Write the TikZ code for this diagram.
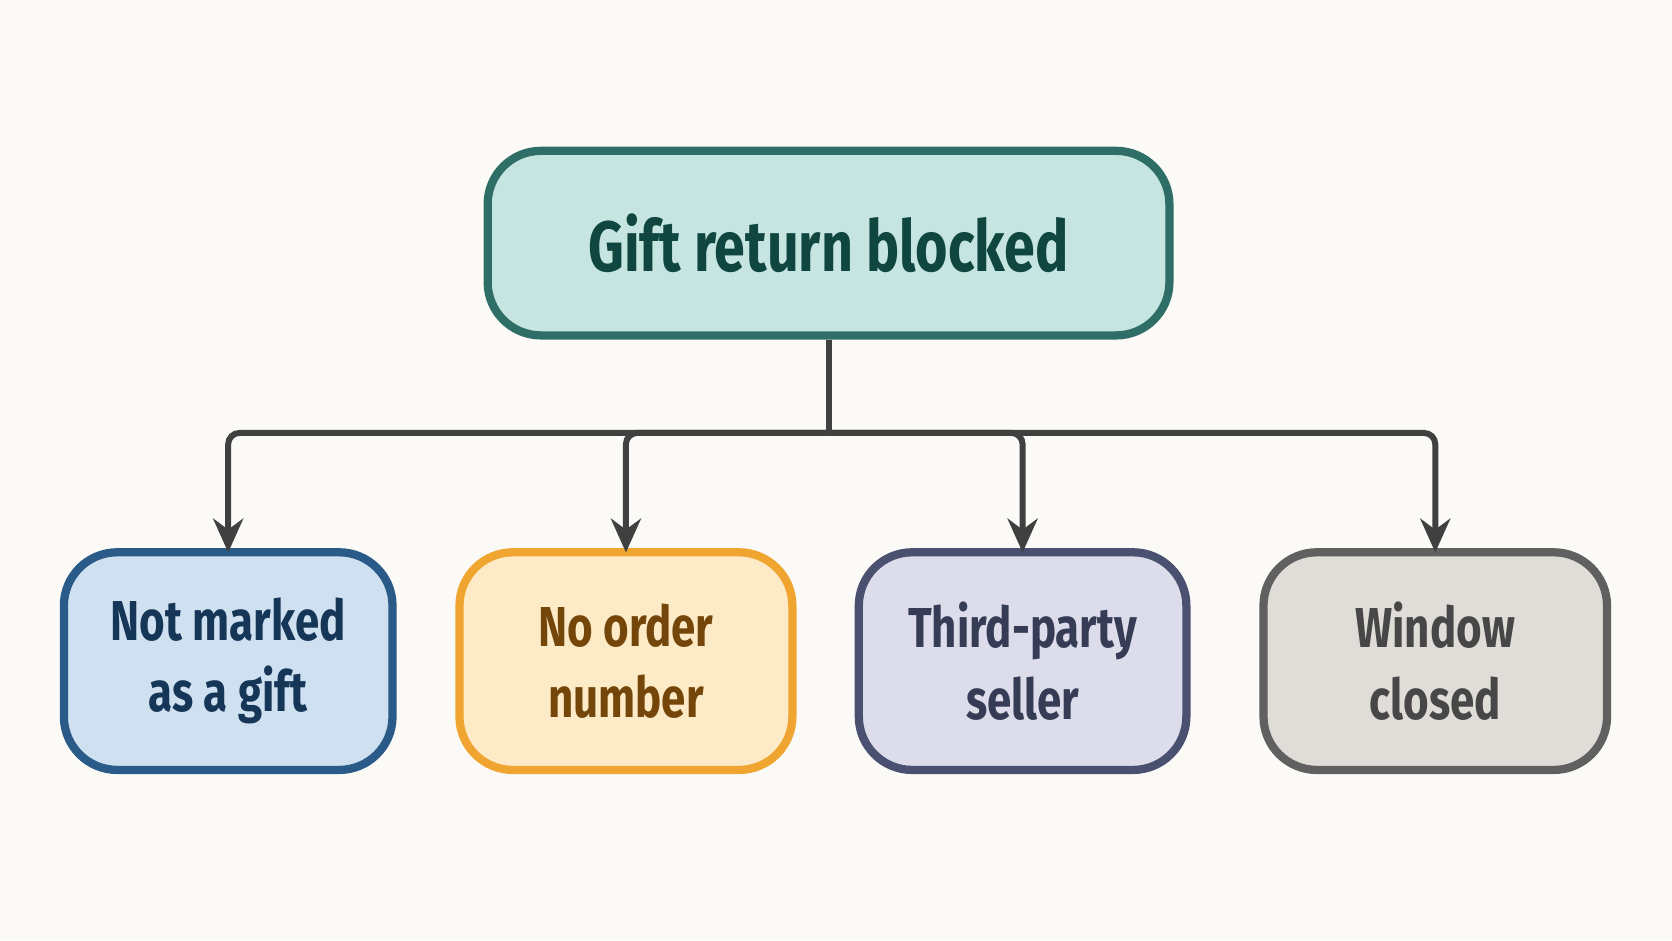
\documentclass[tikz,border=0pt]{standalone}
\usepackage{fontspec}
\setmainfont{Fira Sans}[FakeStretch=0.78]
\usetikzlibrary{arrows.meta}
\definecolor{bgc}{HTML}{FBFAF7}
\definecolor{topfill}{HTML}{C6E5E0}\definecolor{topline}{HTML}{2E6E66}\definecolor{toptext}{HTML}{0F463F}
\definecolor{bluefill}{HTML}{CFE0F0}\definecolor{blueline}{HTML}{2A5A88}\definecolor{bluetext}{HTML}{163658}
\definecolor{orfill}{HTML}{FDEBC8}\definecolor{orline}{HTML}{F0A530}\definecolor{ortext}{HTML}{744609}
\definecolor{pufill}{HTML}{DCDCEA}\definecolor{puline}{HTML}{4A5070}\definecolor{putext}{HTML}{373C56}
\definecolor{grfill}{HTML}{E0DDD8}\definecolor{grline}{HTML}{606060}\definecolor{grtext}{HTML}{474747}
\definecolor{wire}{HTML}{404040}
\begin{document}
\begin{tikzpicture}[x=0.01cm,y=-0.01cm,
  box/.style={draw, line width=2.2pt, rounded corners=0.5cm, align=center, font=\bfseries\fontsize{15}{19}\selectfont},
  cause/.style={box, minimum height=2.04cm},
  link/.style={wire, line width=1.6pt, -{Stealth[length=9pt,width=8pt]}}]
\fill[bgc] (0,0) rectangle (1568,882);

\node[box, fill=topfill, draw=topline, text=toptext, minimum width=6.39cm, minimum height=1.73cm,
  font=\bfseries\fontsize{19}{23}\selectfont] (blocked) at (777,228) {Gift return blocked};

\node[cause, fill=bluefill, draw=blueline, text=bluetext, minimum width=3.08cm] (notgift) at (214,620) {Not marked\\as a gift};
\node[cause, fill=orfill, draw=orline, text=ortext, minimum width=3.12cm] (noorder) at (587,620) {No order\\number};
\node[cause, fill=pufill, draw=puline, text=putext, minimum width=3.07cm] (thirdparty) at (959,620) {Third-party\\seller};
\node[cause, fill=grfill, draw=grline, text=grtext, minimum width=3.22cm] (window) at (1346,620) {Window\\closed};

\coordinate (bus) at (777,406);
\draw[wire, line width=1.6pt] (blocked.south) -- (bus);
\foreach \n in {notgift,noorder,thirdparty,window}
  \draw[link, rounded corners=3pt] (bus) -| ([yshift=-0.04cm]\n.north);
\end{tikzpicture}
\end{document}
